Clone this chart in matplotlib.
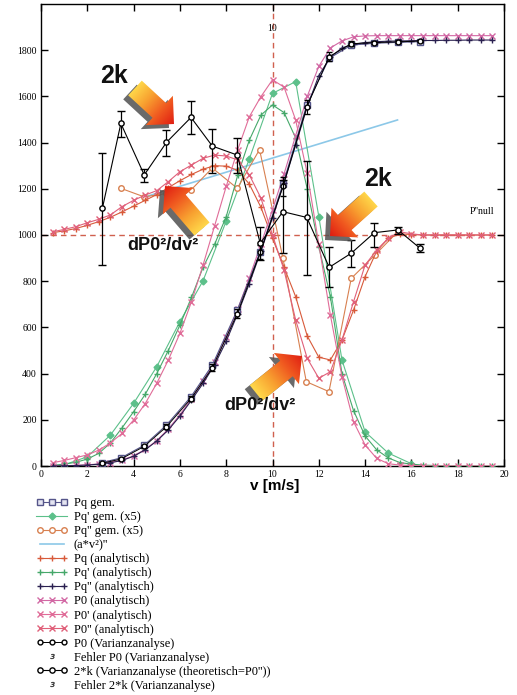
import numpy as np
import matplotlib
matplotlib.use("Agg")
import matplotlib.pyplot as plt
from matplotlib.lines import Line2D
from matplotlib.legend_handler import HandlerLine2D
from matplotlib.patches import Polygon
from matplotlib.colors import LinearSegmentedColormap

# ---------------- data ----------------
x_an = [0.5, 1, 1.5, 2, 2.5, 3, 3.5, 4, 4.5, 5, 5.5, 6, 6.5, 7, 7.5, 8, 8.5, 9, 9.5, 10,
        10.5, 11, 11.5, 12, 12.5, 13, 13.5, 14, 14.5, 15, 15.5, 16, 16.5, 17, 17.5, 18, 18.5, 19, 19.5]

# analytic curves (half-step grid)
pq_an_sig = [0, 1, 2, 4, 8, 14, 24, 42, 70, 108, 156, 216, 285, 358, 438, 540, 660, 790, 930, 1075,
             1225, 1390, 1555, 1690, 1770, 1810, 1826, 1833, 1837, 1839, 1840, 1841, 1842, 1842, 1843, 1843, 1844, 1844, 1844]
p0_an_sig = [0, 1, 3, 5, 9, 15, 26, 44, 72, 110, 160, 222, 292, 368, 452, 558, 680, 815, 960, 1110,
             1265, 1430, 1600, 1730, 1810, 1840, 1858, 1862, 1863, 1863, 1863, 1863, 1863, 1863, 1863, 1863, 1863, 1863, 1863]
p0_an_d1 = [14, 24, 36, 48, 69, 100, 141, 199, 270, 358, 459, 574, 711, 870, 1040, 1210, 1370, 1512, 1599, 1672,
            1640, 1498, 1267, 960, 654, 387, 192, 91, 33, 10, 4, 2, 0, 0, 0, 0, 0, 0, 0]
pq_an_d1 = [3, 8, 16, 30, 55, 100, 165, 235, 310, 400, 500, 610, 730, 860, 960, 1079, 1260, 1411, 1519, 1563,
            1530, 1420, 1200, 950, 733, 400, 240, 130, 70, 35, 15, 8, 4, 2, 0, 0, 0, 0, 0]
p0_an_d2 = [1014, 1024, 1036, 1053, 1068, 1087, 1123, 1150, 1173, 1192, 1231, 1274, 1303, 1332, 1346, 1342, 1325, 1260, 1160, 1000,
            848, 632, 466, 380, 408, 545, 711, 870, 935, 986, 1014, 1005, 1000, 1000, 1000, 1000, 1000, 1000, 1000]
pq_an_d2 = [1010, 1018, 1028, 1042, 1058, 1077, 1100, 1125, 1150, 1175, 1205, 1235, 1262, 1285, 1300, 1298, 1280, 1220, 1120, 985,
            860, 733, 563, 471, 459, 545, 675, 820, 930, 985, 1005, 1002, 1000, 1000, 1000, 1000, 1000, 1000, 1000]

# measured values
x_meas = [2.65, 3.45, 4.46, 5.42, 6.48, 7.4, 8.48, 9.47, 10.45, 11.48, 12.45, 13.4, 14.4, 15.42, 16.38]
pq_gem = [15, 35, 90, 177, 300, 437, 675, 928, 1220, 1563, 1765, 1822, 1830, 1834, 1837]
p0_var = [12, 30, 85, 170, 292, 425, 660, 925, 1210, 1555, 1772, 1828, 1833, 1836, 1840]
p0_var_err = [5, 5, 8, 10, 12, 15, 20, 30, 40, 30, 20, 10, 8, 6, 5]
k2_var = [1115, 1483, 1260, 1401, 1509, 1385, 1346, 964, 1101, 1076, 860, 921, 1010, 1022, 942]
k2_low = [870, 1425, 1230, 1342, 1436, 1267, 1270, 892, 922, 827, 774, 863, 950, 1004, 928]
k2_high = [1353, 1538, 1285, 1455, 1580, 1459, 1418, 1036, 1238, 1320, 947, 978, 1051, 1036, 961]

x_pq1_gem = [1, 2, 3, 4, 5, 6, 7, 8, 9, 10, 11, 12, 13, 14, 15, 16]
pq1_gem = [5, 40, 134, 271, 430, 625, 802, 1060, 1330, 1613, 1664, 1080, 459, 148, 56, 10]
x_pq2_gem = [3.45, 4.46, 5.42, 6.48, 7.4, 8.48, 9.44, 10.45, 11.46, 12.44, 13.4, 14.42, 15.42]
pq2_gem = [1202, 1165, 1180, 1195, 1290, 1202, 1370, 900, 365, 322, 812, 913, 1015]

x_av2 = [4.5, 15.4]
av2 = [1165, 1498]

labels = ["Pq gem.", "Pq' gem. (x5)", "Pq'' gem. (x5)", "(a*v²)''", "Pq (analytisch)",
          "Pq' (analytisch)", "Pq'' (analytisch)", "P0 (analytisch)", "P0' (analytisch)",
          "P0'' (analytisch)", "P0 (Varianzanalyse)", "Fehler P0 (Varianzanalyse)",
          "2*k (Varianzanalyse (theoretisch=P0''))", "Fehler 2*k (Varianzanalyse)"]

# ---------------- style ----------------
c_sq = '#55558a'
c_g1 = '#5cc08a'
c_g2 = '#46a86a'
c_or = '#d88050'
c_red = '#d85a3a'
c_blue = '#8cc8e8'
c_dark = '#2a2050'
c_pk0 = '#d268a4'
c_pk1 = '#e06c98'
c_pk2 = '#e0607a'
c_dash = '#d0604e'

W, H = 517, 695
fig = plt.figure(figsize=(W / 100, H / 100), dpi=100)
ax = fig.add_axes([41 / W, 1 - 466 / H, (504 - 41) / W, (466 - 4) / H])

lw = 0.8
ms = 4

ax.axvline(10, color=c_dash, ls=(0, (4, 3)), lw=1.0, zorder=1)
ax.axhline(1000, color=c_dash, ls=(0, (4, 3)), lw=1.0, zorder=1)

h = {}
h[0], = ax.plot(x_meas, pq_gem, color=c_sq, marker='s', ms=ms, mfc='#e4e4f0', mec=c_sq, lw=lw, zorder=4)
h[1], = ax.plot(x_pq1_gem, pq1_gem, color=c_g1, marker='D', ms=3.5, mfc=c_g1, mec=c_g1, lw=lw, zorder=3)
h[2], = ax.plot(x_pq2_gem, pq2_gem, color=c_or, marker='o', ms=ms, mfc='white', mec=c_or, lw=lw, zorder=3)
h[3], = ax.plot(x_av2, av2, color=c_blue, lw=1.2, zorder=2)
h[4], = ax.plot(x_an, pq_an_d2, color=c_red, marker='+', ms=5, lw=lw, zorder=3)
h[5], = ax.plot(x_an, pq_an_d1, color=c_g2, marker='+', ms=5, lw=lw, zorder=3)
h[6], = ax.plot(x_an, pq_an_sig, color=c_dark, marker='+', ms=5, lw=lw, zorder=4)
h[7], = ax.plot(x_an, p0_an_sig, color=c_pk0, marker='x', ms=4, lw=lw, zorder=3)
h[8], = ax.plot(x_an, p0_an_d1, color=c_pk1, marker='x', ms=4, lw=lw, zorder=3)
h[9], = ax.plot(x_an, p0_an_d2, color=c_pk2, marker='x', ms=4, lw=lw, zorder=3)

ax.errorbar(x_meas, p0_var, yerr=p0_var_err, fmt='none', ecolor='black', elinewidth=0.8, capsize=2.5, zorder=5)
h[10], = ax.plot(x_meas, p0_var, color='black', marker='o', ms=3.5, mfc='white', mec='black', lw=0.7, zorder=5)
k2_err = [np.subtract(k2_var, k2_low), np.subtract(k2_high, k2_var)]
ax.errorbar(x_meas, k2_var, yerr=k2_err, fmt='none', ecolor='black', elinewidth=0.9, capsize=3, zorder=6)
h[12], = ax.plot(x_meas, k2_var, color='black', marker='o', ms=3.8, mfc='white', mec='black', lw=0.8, zorder=6)

h[11] = Line2D([], [], ls='none', marker='$з$', color='#333333', ms=3.5, mew=0.3)
h[13] = Line2D([], [], ls='none', marker='$з$', color='#333333', ms=3.5, mew=0.3)

ax.set_xlim(0, 20)
ax.set_ylim(0, 2000)
ax.set_xticks(range(0, 21, 2))
ax.set_yticks(range(0, 1801, 200))
ax.tick_params(direction='in', length=5, width=1, top=True, right=True, labeltop=False,
               labelright=False, labelsize=7, pad=3)
for lab in ax.get_xticklabels() + ax.get_yticklabels():
    lab.set_family('Liberation Serif')
for s in ax.spines.values():
    s.set_linewidth(1.0)

ax.text(10, 1896, "10", fontsize=7, family='Liberation Serif', ha='center', va='center')
ax.text(18.5, 1100, "P''null", fontsize=7, family='Liberation Serif', ha='left', va='center')

fig.text(275 / W, 1 - 486 / H, "v [m/s]", fontsize=11, fontweight='bold',
         family='Liberation Sans', ha='center', va='center')

handler_map = {h[1]: HandlerLine2D(numpoints=1), h[11]: HandlerLine2D(numpoints=1),
               h[13]: HandlerLine2D(numpoints=1)}
leg = fig.legend([h[i] for i in range(14)], labels, loc='upper left',
                 bbox_to_anchor=(36 / W, 1 - 497 / H), frameon=False,
                 prop={'family': 'Liberation Serif', 'size': 9}, numpoints=3,
                 handlelength=2.5, handletextpad=0.5, labelspacing=0.165, borderpad=0,
                 borderaxespad=0, handler_map=handler_map)

# ---------------- overlay: 3D arrows & annotations ----------------
ov = fig.add_axes([0, 0, 1, 1], zorder=10)
ov.set_xlim(0, W)
ov.set_ylim(H, 0)
ov.axis('off')
ov.patch.set_alpha(0)

cmap = LinearSegmentedColormap.from_list('arr', ['#ffd84a', '#f8a030', '#f05a20', '#e01e12'])


def arrow_poly(tail, head, w, hw, hl):
    T = np.array(tail, float)
    Hh = np.array(head, float)
    u = (Hh - T) / np.linalg.norm(Hh - T)
    n = np.array([-u[1], u[0]])
    B = Hh - u * hl
    return np.array([T + n * w, B + n * w, B + n * hw, Hh, B - n * hw, B - n * w, T - n * w])


def draw_arrow(tail, head, w=10, hw=20, hl=20, sh=(-5, 4)):
    P = arrow_poly(tail, head, w, hw, hl)
    ov.add_patch(Polygon(P + np.array(sh), closed=True, fc='#505050', ec='none', alpha=0.85))
    patch = Polygon(P, closed=True, fc='none', ec='none')
    ov.add_patch(patch)
    x0, y0 = P.min(axis=0) - 2
    x1, y1 = P.max(axis=0) + 2
    X, Y = np.meshgrid(np.linspace(x0, x1, 80), np.linspace(y0, y1, 80))
    T = np.array(tail, float)
    Hh = np.array(head, float)
    d = Hh - T
    t = ((X - T[0]) * d[0] + (Y - T[1]) * d[1]) / (d @ d)
    im = ov.imshow(np.clip(t, 0, 1), extent=(x0, x1, y1, y0), origin='upper', cmap=cmap,
                   vmin=0, vmax=1, aspect='auto', interpolation='bilinear', zorder=3)
    im.set_clip_path(patch)


draw_arrow((135, 88), (174, 124))
draw_arrow((202, 229), (165, 186))
draw_arrow((371, 199), (330, 236))
draw_arrow((256, 393), (302, 356))
ov.set_xlim(0, W)
ov.set_ylim(H, 0)

ov.text(114, 76, "2k", fontsize=18, fontweight='bold', family='Liberation Sans', ha='center', va='center', color='#111111')
ov.text(378, 179, "2k", fontsize=18, fontweight='bold', family='Liberation Sans', ha='center', va='center', color='#111111')
ov.text(163, 246, "dP0²/dv²", fontsize=13, fontweight='bold', family='Liberation Sans', ha='center', va='center', color='#111111')
ov.text(260, 406, "dP0²/dv²", fontsize=13, fontweight='bold', family='Liberation Sans', ha='center', va='center', color='#111111')

fig.savefig("out.png", dpi=100)
